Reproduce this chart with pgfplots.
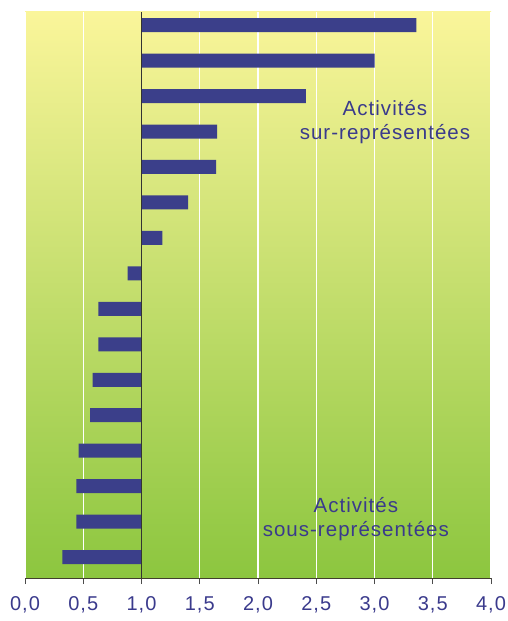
\documentclass[border=0pt]{standalone}
\usepackage{pgfplots}
\pgfplotsset{compat=1.18}
\usepackage{pgfplotstable}
\usepackage{fontspec}
\setmainfont{Liberation Sans}
\newfontfamily\spaced[LetterSpace=5]{Liberation Sans}
\definecolor{barblue}{HTML}{3B3F8A}
\definecolor{txtblue}{HTML}{3A3A8C}
\definecolor{bgtop}{HTML}{FAF59A}
\definecolor{bgbot}{HTML}{8CC63F}
\pgfplotstableread{
y v
16 3.36
15 3.00
14 2.41
13 1.65
12 1.64
11 1.40
10 1.18
9 0.88
8 0.63
7 0.63
6 0.58
5 0.56
4 0.46
3 0.44
2 0.44
1 0.32
}\data
\begin{document}
\begin{tikzpicture}
\useasboundingbox (-25pt,-43pt) rectangle (482pt,578pt);
\begin{axis}[
  at={(0,0)}, anchor=south west,
  scale only axis, width=466pt, height=566pt,
  xmin=-1, xmax=3, ymin=0.41, ymax=16.37,
  axis x line*=bottom, axis y line=none,
  axis line style={-, black!70!olive, line width=1pt},
  xtick={-1,-0.5,...,3},
  xticklabels={0{,}0,0{,}5,1{,}0,1{,}5,2{,}0,2{,}5,3{,}0,3{,}5,4{,}0},
  ytick=\empty,
  xmajorgrids, grid style={white, line width=1.2pt},
  axis background/.style={top color=bgtop, bottom color=bgbot},
  xtick align=outside, major tick length=6pt,
  tick style={black!70, line width=0.8pt},
  ticklabel style={font=\spaced\fontsize{20}{24}\selectfont, text=txtblue},
  xticklabel style={yshift=-9pt},
  xbar, bar width=14pt,
]
\addplot[draw=none, fill=barblue] table[x expr=\thisrow{v}-1, y=y] {\data};
\draw[black!80, line width=1.4pt] (axis cs:0,0.41) -- (axis cs:0,16.37);
\node[text=txtblue, align=center, font=\spaced\fontsize{20.5}{24}\selectfont] at (axis cs:2.09,13.27) {Activités\\sur-représentées};
\node[text=txtblue, align=center, font=\spaced\fontsize{20.5}{24}\selectfont] at (axis cs:1.84,2.07) {Activités\\sous-représentées};
\end{axis}
\end{tikzpicture}
\end{document}
